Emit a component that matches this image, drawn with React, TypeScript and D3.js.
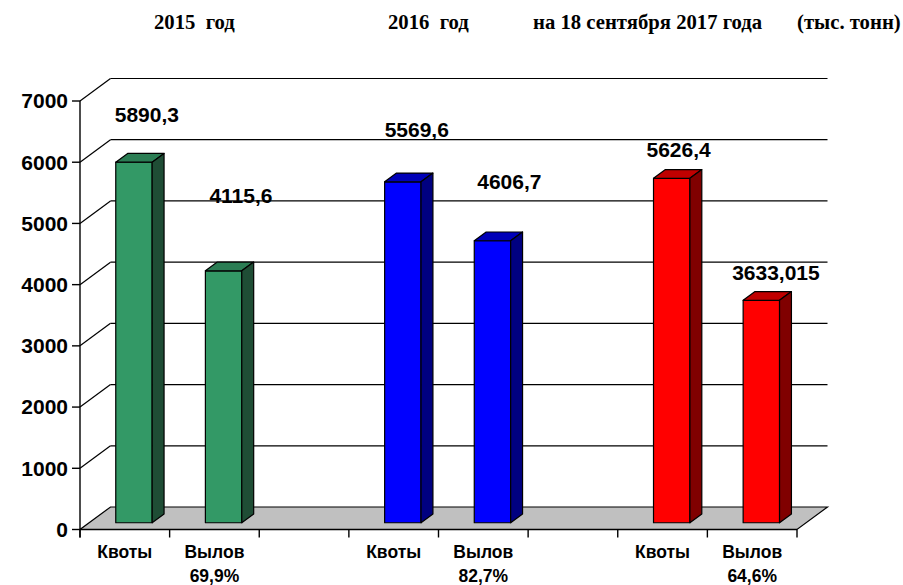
import React from 'react';
import * as d3 from 'd3';

// chart values
const years = ['2015  год', '2016  год', 'на 18 сентября 2017 года'];
const quotas = [5890.3, 5569.6, 5626.4];
const catches = [4115.6, 4606.7, 3633.015];
const catchShare = ['69,9%', '82,7%', '64,6%'];
const unitLabel = '(тыс. тонн)';
const yTicks = [0, 1000, 2000, 3000, 4000, 5000, 6000, 7000];

const palette = [
  { front: '#339966', top: '#2b7d54', side: '#1f4d35' },
  { front: '#0000ff', top: '#0000b8', side: '#000080' },
  { front: '#ff0000', top: '#c00000', side: '#800000' },
];

// hand placed label nudges (px from bar front top-left), as in the original
const labelNudge: [number, number][] = [
  [-1, -40], [4, -68], [0, -45], [3, -52], [-7, -21], [-11, -20],
];
const titleX = [154, 388, 533];

const W = 903;
const H = 585;
const depthX = 30.5;
const depthY = -22.5;
const barFront = 0.3;
const barBack = 0.69;
const barWidth = 36.4;

export default function App() {
  const slots = ['q0', 'c0', 'g0', 'q1', 'c1', 'g1', 'q2', 'c2'];
  const x = d3.scaleBand<string>().domain(slots).range([80, 797]).padding(0);
  const y = d3.scaleLinear().domain([0, 7000]).range([529.5, 101]);

  const bars = quotas.flatMap((q, i) => [
    { key: `q${i}`, value: q, group: i, label: 'Квоты', sub: '' },
    { key: `c${i}`, value: catches[i], group: i, label: 'Вылов', sub: catchShare[i] },
  ]);

  const bdx = depthX * (barBack - barFront);
  const bdy = depthY * (barBack - barFront);
  const fmt = (v: number) => String(v).replace('.', ',');
  const pts = (p: number[][]) => p.map(d => d.join(',')).join(' ');

  const x0 = x.range()[0];
  const x1 = x.range()[1];
  const yBase = y(0);

  return (
    <svg width={W} height={H} style={{ position: 'absolute', left: 0, top: 0, background: '#fff' }}>
      {/* header */}
      <g fontFamily="'Liberation Serif', 'Times New Roman', serif" fontWeight="bold" fontSize={20.7}>
        {years.map((t, i) => (
          <text key={t} x={titleX[i]} y={29} style={{ whiteSpace: 'pre' }}>{t}</text>
        ))}
        <text x={797} y={29}>{unitLabel}</text>
      </g>

      {/* back wall gridlines and left wall diagonals */}
      <g stroke="#000" strokeWidth={1.2} fill="none">
        {yTicks.filter(t => t > 0).map(t => (
          <g key={t}>
            <line x1={x0 + depthX} x2={x1 + depthX} y1={y(t) + depthY} y2={y(t) + depthY} />
            <line x1={x0} x2={x0 + depthX} y1={y(t)} y2={y(t) + depthY} />
          </g>
        ))}
      </g>

      {/* floor */}
      <polygon
        points={pts([[x0, yBase], [x1, yBase], [x1 + depthX, yBase + depthY], [x0 + depthX, yBase + depthY]])}
        fill="#c0c0c0"
        stroke="#000"
        strokeWidth={1.2}
      />

      {/* axes */}
      <g stroke="#000" strokeWidth={1.4}>
        <line x1={x0} x2={x0} y1={y(7000)} y2={yBase + 8} />
        <line x1={x0} x2={x1} y1={yBase} y2={yBase} />
        {yTicks.map(t => (
          <line key={t} x1={x0 - 8} x2={x0} y1={y(t)} y2={y(t)} />
        ))}
        {slots.concat(['end']).map((s, i) => {
          const px = i < slots.length ? (x(s) as number) : x1;
          return <line key={s} x1={px} x2={px} y1={yBase} y2={yBase + 8} />;
        })}
      </g>
      <g fontFamily="'Liberation Sans', Arial, sans-serif" fontWeight="bold" fontSize={21} textAnchor="end">
        {yTicks.map(t => (
          <text key={t} x={68} y={y(t)} dy="0.35em">{t}</text>
        ))}
      </g>

      {/* bars */}
      {bars.map((b, i) => {
        const c = palette[b.group];
        const xf = (x(b.key) as number) + (x.bandwidth() - barWidth) / 2 + depthX * barFront;
        const yb = yBase + depthY * barFront;
        const yt = y(b.value) + depthY * barFront;
        const xr = xf + barWidth;
        return (
          <g key={b.key} stroke="#000" strokeWidth={1.2} strokeLinejoin="round">
            <rect x={xf} y={yt} width={barWidth} height={yb - yt} fill={c.front} />
            <polygon points={pts([[xf, yt], [xf + bdx, yt + bdy], [xr + bdx, yt + bdy], [xr, yt]])} fill={c.top} />
            <polygon points={pts([[xr, yt], [xr + bdx, yt + bdy], [xr + bdx, yb + bdy], [xr, yb]])} fill={c.side} />
            <text
              x={xf + labelNudge[i][0]}
              y={yt + labelNudge[i][1]}
              stroke="none"
              fill="#000"
              fontFamily="'Liberation Sans', Arial, sans-serif"
              fontWeight="bold"
              fontSize={21}
            >
              {fmt(b.value)}
            </text>
          </g>
        );
      })}

      {/* category labels */}
      <g fontFamily="'Liberation Sans', Arial, sans-serif" fontWeight="bold" fontSize={17.5} textAnchor="middle">
        {bars.map(b => {
          const cx = (x(b.key) as number) + x.bandwidth() / 2;
          return (
            <g key={b.key}>
              <text x={cx} y={558}>{b.label}</text>
              {b.sub && <text x={cx} y={581.5}>{b.sub}</text>}
            </g>
          );
        })}
      </g>
    </svg>
  );
}
